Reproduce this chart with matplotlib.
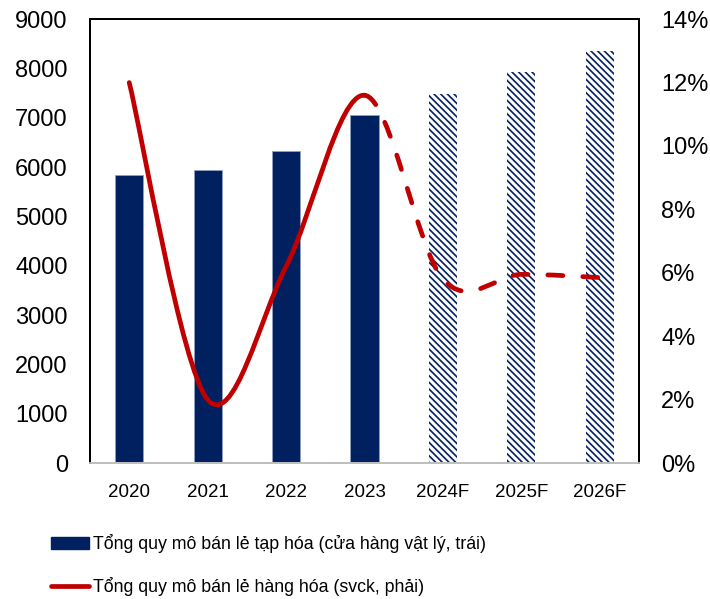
import numpy as np
import matplotlib
matplotlib.use("Agg")
import matplotlib.pyplot as plt
from matplotlib.path import Path
from matplotlib.patches import PathPatch, Patch
from matplotlib.lines import Line2D

plt.rcParams['font.family'] = ['Liberation Sans', 'DejaVu Sans']
plt.rcParams['hatch.linewidth'] = 1.2

years = ["2020", "2021", "2022", "2023", "2024F", "2025F", "2026F"]
grocery = [5840, 5950, 6325, 7055, 7475, 7925, 8360]       # left axis
growth = [12.0, 2.0, 6.2, 11.6, 5.8, 5.95, 5.85]            # right axis, %
n_actual = 4  # first 4 are actual, rest forecast

label_bar = "Tổng quy mô bán lẻ tạp hóa (cửa hàng vật lý, trái)"
label_line = "Tổng quy mô bán lẻ hàng hóa (svck, phải)"

navy = "#002060"
red = "#C00000"

fig = plt.figure(figsize=(7.10, 5.99), dpi=100)
ax = fig.add_axes([0.1268, 0.227, 0.7732, 0.741])
ax2 = ax.twinx()

x = np.arange(len(years))
w = 0.36
ax.bar(x[:n_actual], grocery[:n_actual], w, color=navy, edgecolor="#8fa0c0", linewidth=0.6, zorder=2)
ax.bar(x[n_actual:], grocery[n_actual:], w, color="white", edgecolor=navy, linewidth=0,
       hatch="\\\\\\\\\\", zorder=2)

ax.set_xlim(-0.5, len(years) - 0.5)
ax.set_ylim(0, 9000)
ax.set_yticks(np.arange(0, 9001, 1000))
ax.set_xticks(x)
ax.set_xticklabels(years, fontsize=13.5)
ax2.set_ylim(0, 14)
ax2.set_yticks(np.arange(0, 15, 2))
ax2.set_yticklabels([f"{v}%" for v in range(0, 15, 2)])

for a in (ax, ax2):
    a.tick_params(length=0)
ax.tick_params(axis="y", pad=16, labelsize=17)
ax.tick_params(axis="x", pad=15)
ax2.tick_params(axis="y", pad=16, labelsize=17)

for a in (ax, ax2):
    for s in ("left", "right", "top"):
        a.spines[s].set_color("black")
        a.spines[s].set_linewidth(1.3)
    a.spines["bottom"].set_color("#bfbfbf")
    a.spines["bottom"].set_linewidth(1.3)

# smoothed line (Excel-style Bezier through the points)
pts = np.column_stack([x, growth]).astype(float)


def bezier_path(i0, i1):
    verts = [tuple(pts[i0])]
    codes = [Path.MOVETO]
    for i in range(i0, i1):
        p_prev = pts[max(i - 1, 0)]
        p0 = pts[i]
        p1 = pts[i + 1]
        p_next = pts[min(i + 2, len(pts) - 1)]
        c1 = p0 + (p1 - p_prev) / 6.0
        c2 = p1 - (p_next - p0) / 6.0
        verts += [tuple(c1), tuple(c2), tuple(p1)]
        codes += [Path.CURVE4] * 3
    return Path(verts, codes)


solid = PathPatch(bezier_path(0, n_actual - 1), facecolor="none", edgecolor=red,
                  linewidth=3.4, capstyle="round", joinstyle="round", zorder=3)
dashed = PathPatch(bezier_path(n_actual - 1, len(pts) - 1), facecolor="none", edgecolor=red,
                   linewidth=3.4, linestyle=(0, (3.2, 4.2)), capstyle="round", zorder=3)
ax2.add_patch(solid)
ax2.add_patch(dashed)

handles = [Patch(facecolor=navy, edgecolor=navy),
           Line2D([0], [0], color=red, linewidth=3.4, solid_capstyle="round")]
fig.legend(handles, [label_bar, label_line], loc="upper left",
           bbox_to_anchor=(0.062, 0.12), frameon=False, fontsize=12.8,
           handlelength=2.15, handleheight=0.7, handletextpad=0.2, labelspacing=1.35,
           borderaxespad=0)

fig.savefig("out.png", dpi=100)
